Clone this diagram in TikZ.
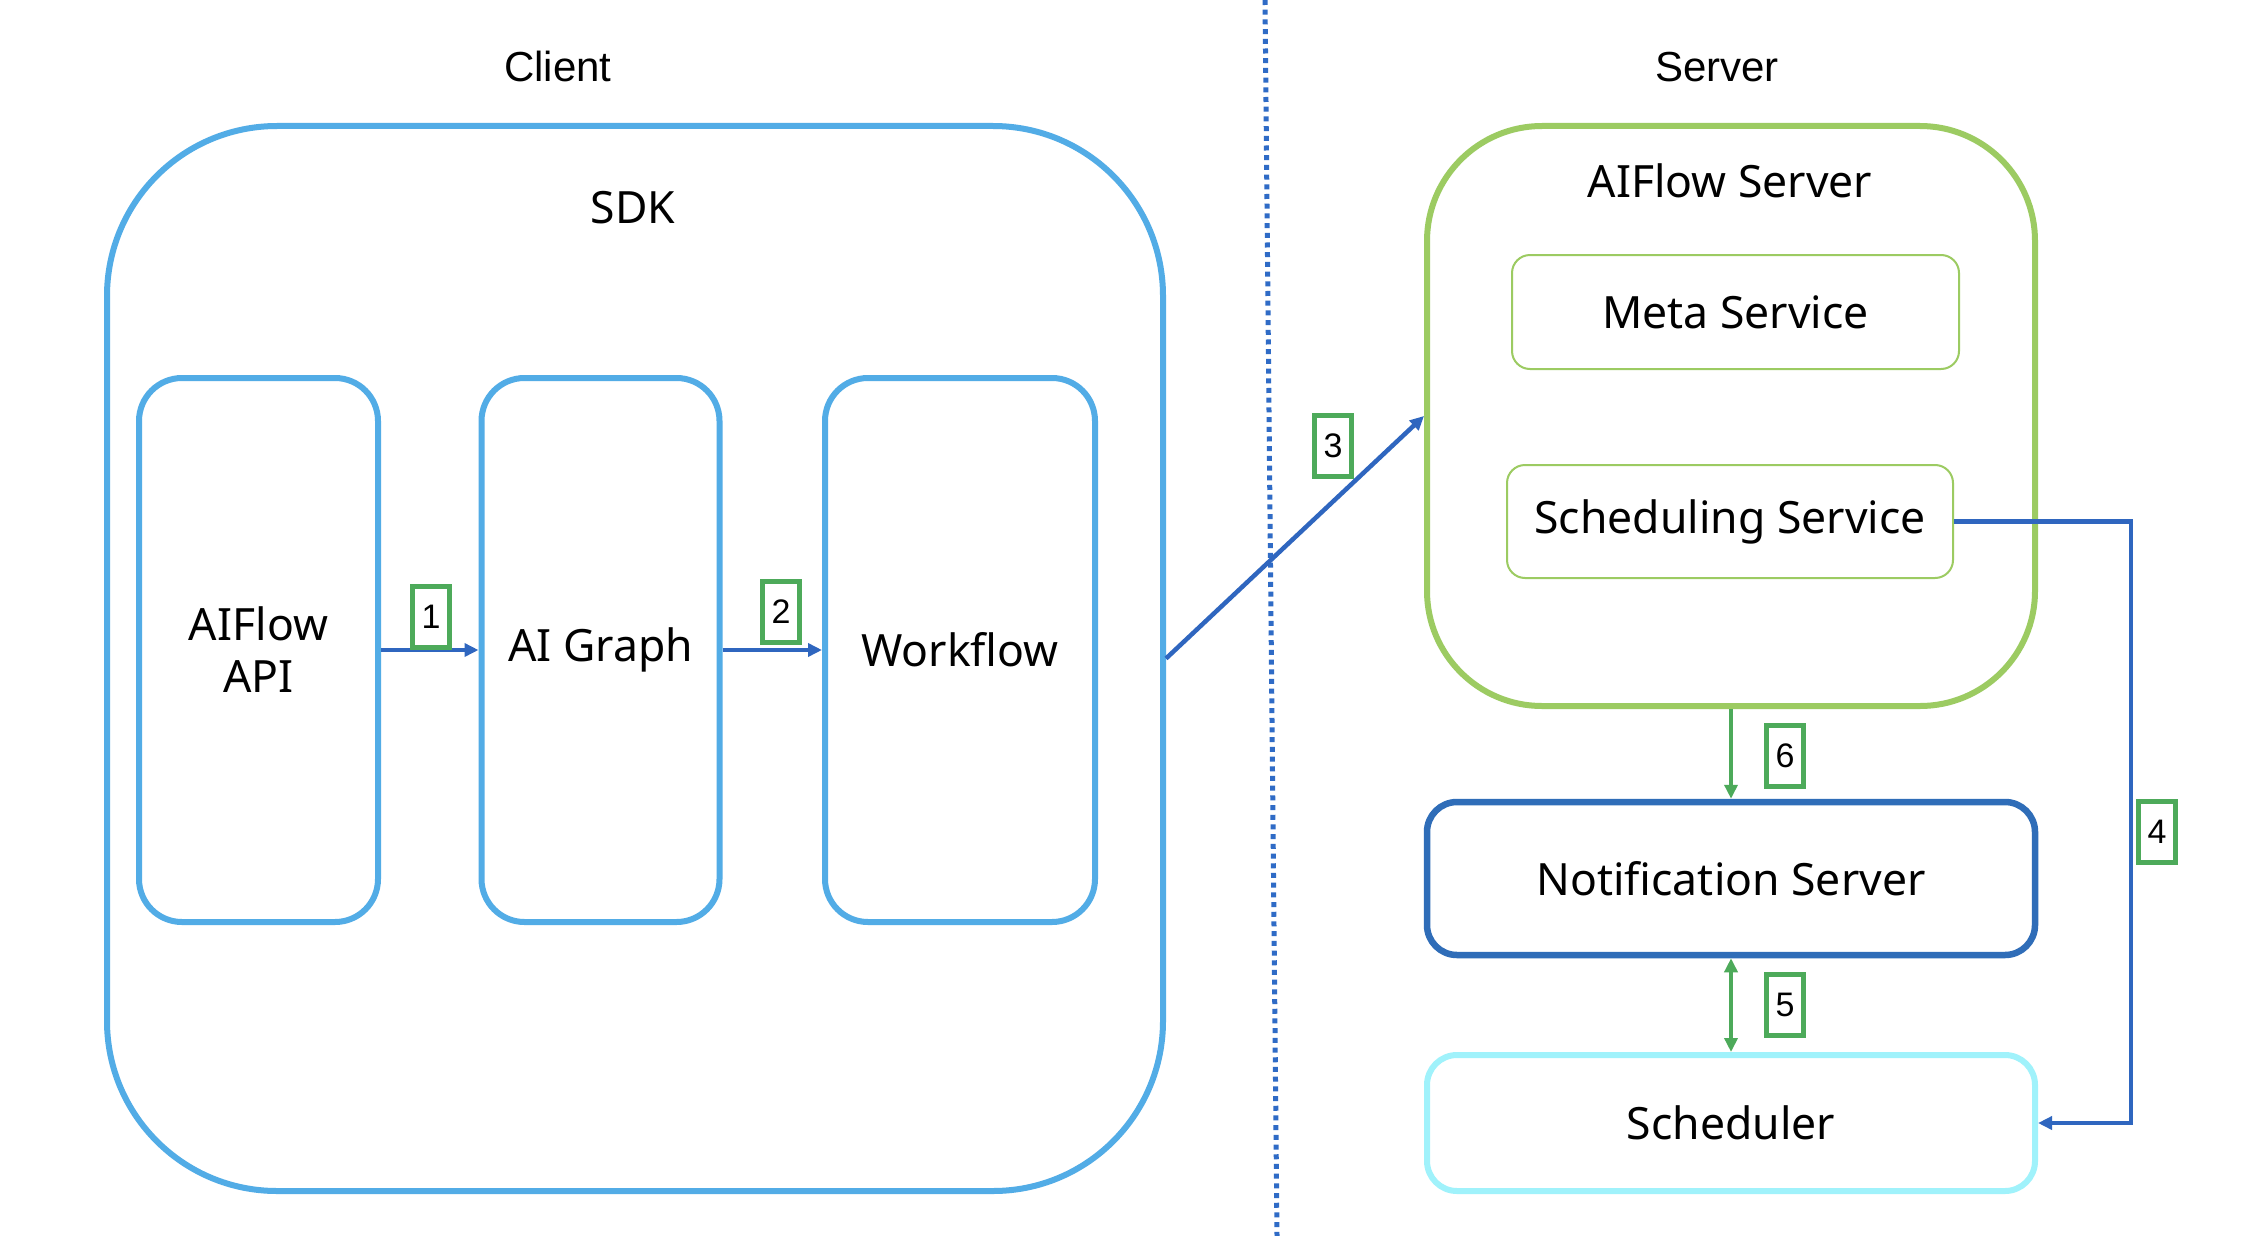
\documentclass[tikz,border=0pt]{standalone}
\usepackage{fontspec}
\setmainfont{Noto Sans}
\newfontfamily\helv{Liberation Sans}
\usetikzlibrary{arrows.meta}
\definecolor{sdkblue}{HTML}{52ACE6}
\definecolor{srvgreen}{HTML}{9CCB62}
\definecolor{notifblue}{HTML}{2F6DB8}
\definecolor{schedcyan}{HTML}{A0F2FB}
\definecolor{tagGreen}{HTML}{4DAA5A}
\definecolor{arrowblue}{HTML}{2F66BF}
\definecolor{dotblue}{HTML}{2F6BC6}
\tikzset{
  boxtext/.style={font=\fontsize{44.5}{52}\selectfont, align=center, text=black},
  sdkbox/.style={draw=sdkblue, line width=6pt, rounded corners=43pt, boxtext},
  svcbox/.style={draw=srvgreen, line width=2pt, rounded corners=18pt, boxtext},
  tagbox/.style={draw=tagGreen, line width=4.5pt, minimum width=37pt, minimum height=61pt, inner sep=0pt, font=\helv\fontsize{34}{36}\selectfont},
  bluearrow/.style={draw=arrowblue, line width=4.5pt, -{Triangle[length=14pt,width=13pt]}},
  greenarrow/.style={draw=tagGreen, line width=4.5pt, -{Triangle[length=14pt,width=13pt]}},
  greendouble/.style={draw=tagGreen, line width=4.5pt, {Triangle[length=14pt,width=13pt]}-{Triangle[length=14pt,width=13pt]}},
  titletext/.style={font=\helv\fontsize{42}{48}\selectfont, anchor=base},
}
\begin{document}
\begin{tikzpicture}[x=1pt, y=-1pt]
\useasboundingbox (0,0) rectangle (2242,1236);
\fill[white] (0,0) rectangle (2242,1236);

% dotted divider
\coordinate (dtop) at (1265,0);
\coordinate (dbot) at (1277,1236);
\draw[dotblue, line width=5pt, dash pattern=on 5pt off 4.7pt] (dtop) -- (dbot);

% titles
\node[titletext] (client) at (558,82) {Client};
\node[titletext] (server) at (1717,82) {Server};

% SDK
\node[draw=sdkblue, line width=6pt, rounded corners=170pt, minimum width=1056pt, minimum height=1065pt] (sdk) at (635,658.5) {};
\node[boxtext, anchor=base] (sdklbl) at (633,223) {SDK};

\node[sdkbox, minimum width=239pt, minimum height=544pt] (api) at (258.5,650) {AIFlow\\API};
\node[sdkbox, minimum width=238pt, minimum height=544pt] (graph) at (600.5,650) {AI Graph};
\node[sdkbox, minimum width=270pt, minimum height=544pt] (wf) at (960,650) {Workflow};

% AIFlow server
\node[draw=srvgreen, line width=6pt, rounded corners=115pt, minimum width=608pt, minimum height=580pt] (aiflow) at (1731,416) {};
\node[boxtext, anchor=base] (aiflowlbl) at (1730,197) {AIFlow Server};
\node[svcbox, minimum width=447pt, minimum height=114pt] (meta) at (1735.5,312) {Meta Service};
\node[svcbox, minimum width=446pt, minimum height=113pt] (schedsvc) at (1730,521.5) {Scheduling Service};

\node[draw=notifblue, line width=6.5pt, rounded corners=30pt, minimum width=608pt, minimum height=153pt, boxtext] (notif) at (1731,878.5) {Notification Server};
\node[draw=schedcyan, line width=6pt, rounded corners=30pt, minimum width=608pt, minimum height=136pt, boxtext] (scheduler) at (1731,1123) {Scheduler};

% connectors
\draw[bluearrow] (api.east) -- (graph.west);
\draw[bluearrow] (graph.east) -- (wf.west);
\draw[bluearrow] (sdk.east) -- (aiflow.west);
\coordinate (bend4) at (2131,1123);
\draw[bluearrow] (schedsvc.east) -| (bend4) -- (scheduler.east);
\draw[greenarrow] (aiflow.south) -- (notif.north);
\draw[greendouble] (notif.south) -- (scheduler.north);

% step tags
\node[tagbox] (t1) at (431,617) {1};
\node[tagbox] (t2) at (781,612) {2};
\node[tagbox] (t3) at (1333,446) {3};
\node[tagbox] (t4) at (2157,832) {4};
\node[tagbox] (t6) at (1785,756) {6};
\node[tagbox] (t5) at (1785,1005) {5};
\end{tikzpicture}
\end{document}
